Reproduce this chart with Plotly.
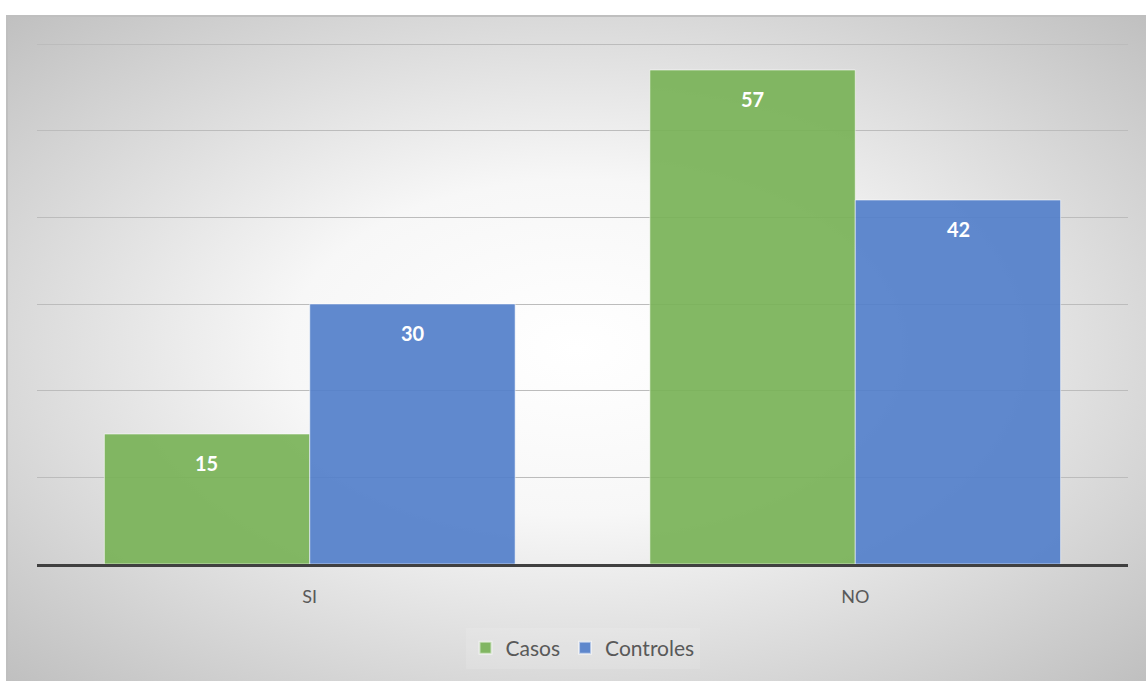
import base64
import plotly.graph_objects as go

# Data
categorias = ["SI", "NO"]
casos = [15, 57]
controles = [30, 42]

FONT = "Lato"
W, H = 1146, 681
# plot area in pixels
L, R, T, B = 37, 18, 35, 117
pw, ph = W - L - R, H - T - B
Y_TOP = 61.04  # keeps 10 units = 86.7 px, with the 60 gridline just below the top

# radial-gradient chart background with thin grey frame (top/left visible)
svg = (
    '<svg xmlns="http://www.w3.org/2000/svg" width="1140" height="666" viewBox="0 0 1140 666">'
    '<defs><radialGradient id="g" cx="50%" cy="50%" r="72%">'
    '<stop offset="0" stop-color="#ffffff"/>'
    '<stop offset="0.35" stop-color="#f7f7f7"/>'
    '<stop offset="1" stop-color="#bebebe"/>'
    '</radialGradient></defs>'
    '<rect x="0" y="0" width="1140" height="666" fill="url(#g)"/>'
    '<line x1="0" y1="1" x2="1140" y2="1" stroke="#bfbfbf" stroke-width="2"/>'
    '<line x1="1" y1="0" x2="1" y2="666" stroke="#bfbfbf" stroke-width="2"/>'
    '</svg>'
)
bg_src = "data:image/svg+xml;base64," + base64.b64encode(svg.encode()).decode()

def px_x(p):
    return (p - L) / pw

def px_y(p):
    return (H - B - p) / ph

fig = go.Figure()
fig.add_trace(go.Bar(
    name="Casos", x=categorias, y=casos,
    marker=dict(color="rgba(122,179,88,0.93)", line=dict(color="rgba(255,255,255,0.55)", width=1)),
    hoverinfo="x+y",
))
fig.add_trace(go.Bar(
    name="Controles", x=categorias, y=controles,
    marker=dict(color="rgba(84,128,202,0.93)", line=dict(color="rgba(255,255,255,0.55)", width=1)),
    hoverinfo="x+y",
))

# value labels inside the top of each bar
for serie, vals, off in (("Casos", casos, -0.1885), ("Controles", controles, 0.1885)):
    for i, v in enumerate(vals):
        fig.add_annotation(
            x=i + off, y=v, xref="x", yref="y", text=f"<b>{v}</b>",
            showarrow=False, yshift=-29,
            font=dict(family=FONT, size=20, color="white"),
        )

fig.update_layout(
    width=W, height=H,
    margin=dict(l=L, r=R, t=T, b=B, pad=0),
    paper_bgcolor="white",
    plot_bgcolor="rgba(0,0,0,0)",
    barmode="group", bargap=0.247, bargroupgap=0.0,
    font=dict(family=FONT, color="#595959"),
    showlegend=True,
    legend=dict(
        orientation="h", x=0.5, xanchor="center", y=px_y(648), yanchor="middle",
        font=dict(family=FONT, size=21, color="#595959"),
        bgcolor="rgba(255,255,255,0.12)",
        itemsizing="constant", traceorder="normal", itemwidth=30,
    ),
    images=[dict(
        source=bg_src, xref="paper", yref="paper",
        x=px_x(6), y=px_y(15), sizex=px_x(W) - px_x(6), sizey=px_y(15) - px_y(H),
        xanchor="left", yanchor="top", sizing="stretch", layer="below",
    )],
)
fig.update_xaxes(
    type="category", showgrid=False, zeroline=False,
    showline=True, linecolor="#404040", linewidth=3,
    ticks="", ticklabelstandoff=14,
    tickfont=dict(family=FONT, size=18, color="#595959"),
)
fig.update_yaxes(
    range=[0, Y_TOP], dtick=10, showgrid=True, gridcolor="#bcbcbc", gridwidth=1,
    zeroline=False, showticklabels=False, showline=False, fixedrange=True,
)

fig.write_html("out.html")
